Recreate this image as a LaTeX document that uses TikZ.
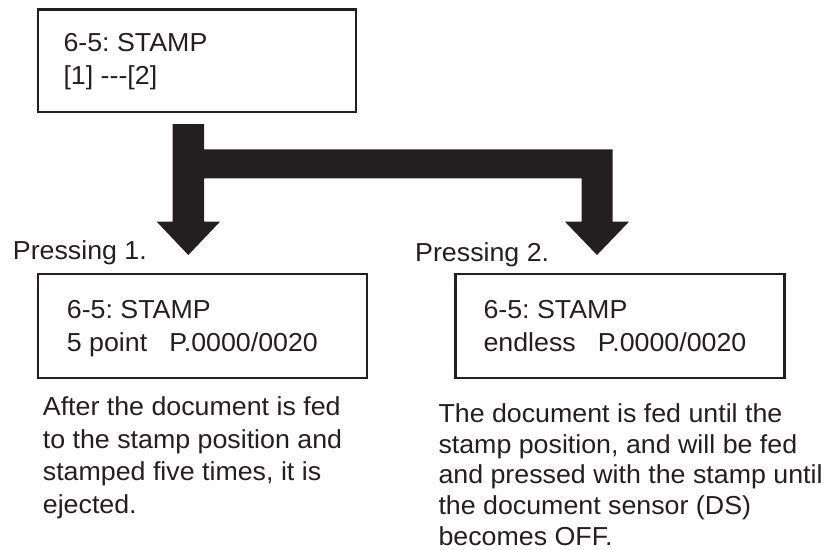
\documentclass[tikz,border=0pt]{standalone}
\usepackage{fontspec}
\setmainfont{Liberation Sans}[FakeStretch=1.03]
\definecolor{ink}{HTML}{231F20}
\frenchspacing
\newcommand{\linesbox}[1]{\vtop{\setlength{\lineskiplimit}{-100pt}#1}}
\begin{document}
\frenchspacing
\begin{tikzpicture}[x=1pt,y=-1pt,
  box/.style={draw=ink, line width=2.4pt, inner sep=0pt, anchor=north west},
  txt/.style={anchor=base west, inner sep=0pt, text=ink, font=\fontsize{26}{33.5}\selectfont\frenchspacing},
  para/.style={anchor=base west, inner sep=0pt, text=ink, font=\fontsize{26}{32.5}\selectfont\frenchspacing},
  parb/.style={anchor=base west, inner sep=0pt, text=ink, font=\fontsize{26}{30.6}\selectfont\frenchspacing},
  bigarrow/.style={fill=ink, draw=none}]
\useasboundingbox (0,0) rectangle (826,549);

% boxes
\node[box, minimum width=318.3pt, minimum height=102.2pt] (topbox) at (36.7,8.3) {};
\node[box, minimum width=329pt, minimum height=104pt] (leftbox) at (36.7,272.7) {};
\node[box, minimum width=329pt, minimum height=104pt] (rightbox) at (454.3,272.7) {};

% box texts
\node[txt] (toptext) at (63.3,51) {\linesbox{\hbox{6-5: STAMP}\hbox{[1] -{}-{}-[2]}}};
\node[txt] (lefttext) at (66.7,318.3) {\linesbox{\hbox{6-5: STAMP}\hbox{5 point\hspace{0.85em}P.0000/0020}}};
\node[txt] (righttext) at (483.3,318.3) {\linesbox{\hbox{6-5: STAMP}\hbox{endless\hspace{0.85em}P.0000/0020}}};

% labels
\node[txt] (press1) at (12.7,259.3) {Pressing 1.};
\node[txt] (press2) at (415,261.7) {Pressing 2.};

% descriptions
\node[para] (desc1) at (42.7,415.7) {\linesbox{\hbox{After the document is fed}\hbox{to the stamp position and}\hbox{stamped five times, it is}\hbox{ejected.}}};
\node[parb] (desc2) at (438.3,422.7) {\linesbox{\hbox{The document is fed until the}\hbox{stamp position, and will be fed}\hbox{and pressed with the stamp until}\hbox{the document sensor (DS)}\hbox{becomes OFF.}}};

% branching block arrow
\coordinate (a1) at (172.7,124);
\coordinate (a2) at (204,124);
\coordinate (a3) at (204,149.3);
\coordinate (a4) at (612.7,149.3);
\coordinate (a5) at (612.7,221.7);
\coordinate (a6) at (629,221.7);
\coordinate (tipR) at (597,255);
\coordinate (a8) at (565,221.7);
\coordinate (a9) at (581.7,221.7);
\coordinate (a10) at (581.7,178.3);
\coordinate (a11) at (204,178.3);
\coordinate (a12) at (204,221.7);
\coordinate (a13) at (220,221.7);
\coordinate (tipL) at (188.3,255);
\coordinate (a15) at (156.7,221.7);
\coordinate (a16) at (172.7,221.7);
\fill[bigarrow] (a1) -- (a2) -- (a3) -- (a4) -- (a5) -- (a6) -- (tipR) -- (a8) -- (a9) -- (a10) -- (a11) -- (a12) -- (a13) -- (tipL) -- (a15) -- (a16) -- cycle;
\end{tikzpicture}
\end{document}
